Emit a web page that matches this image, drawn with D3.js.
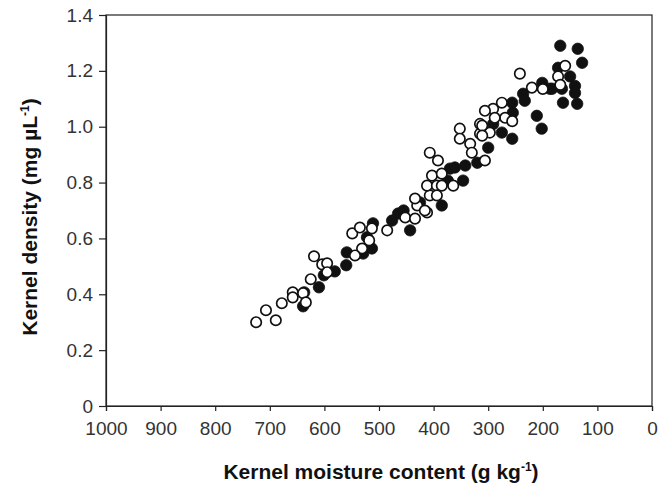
<!DOCTYPE html>
<html>
<head>
<meta charset="utf-8">
<script src="https://cdn.jsdelivr.net/npm/d3@7"></script>
<style>
  body { margin: 0; background: #fff; }
  svg text { font-family: "Liberation Sans", Arial, sans-serif; }
</style>
</head>
<body>
<svg id="chart" width="667" height="490"></svg>
<script>
// Kernel moisture content (g/kg) and kernel density (mg/µL)
const openMoisture = [725,707,689,678,658,658,639,634,625,619,604,595,595,549,535,513,518,531,544,
  485,452,434,412,430,407,412,434,416,407,392,352,352,333,330,315,315,403,385,394,364,394,385,306,
  242,220,200,172,168,275,291,269,306,288,256,297,311,311,159];
const openDensity = [0.30,0.343,0.307,0.368,0.407,0.389,0.404,0.371,0.454,0.536,0.507,0.511,0.479,0.618,0.639,0.636,0.593,0.564,0.539,
  0.629,0.675,0.671,0.693,0.718,0.754,0.789,0.743,0.70,0.907,0.879,0.993,0.957,0.939,0.907,0.975,1.01,0.825,0.832,0.789,0.789,0.754,0.789,0.879,
  1.19,1.14,1.135,1.18,1.15,1.086,1.064,1.032,1.057,1.032,1.02,0.979,1.004,0.968,1.218];

const filledMoisture = [637,639,610,601,581,560,559,511,522,529,513,465,476,443,425,455,370,361,342,320,346,374,385,
  300,256,291,236,233,201,187,150,141,141,163,137,211,202,256,255,275,168,136,128,172,165,183];
const filledDensity = [0.407,0.357,0.425,0.468,0.482,0.504,0.55,0.654,0.604,0.546,0.564,0.689,0.664,0.629,0.729,0.70,0.85,0.854,0.861,0.871,0.807,0.807,0.718,
  0.925,0.957,1.01,1.118,1.093,1.157,1.136,1.18,1.146,1.121,1.086,1.082,1.039,0.993,1.086,1.05,0.979,1.29,1.279,1.229,1.211,1.136,1.136];

const xTicks = [1000,900,800,700,600,500,400,300,200,100,0];
const yTicks = [0,0.2,0.4,0.6,0.8,1.0,1.2,1.4];

const svg = d3.select("#chart");
const plotLeft = 106, plotRight = 652, plotTop = 15, plotBottom = 406;

const x = d3.scaleLinear().domain([1000, 0]).range([plotLeft, plotRight]);
const y = d3.scaleLinear().domain([0, 1.4]).range([plotBottom, plotTop]);

// plot frame
svg.append("rect")
  .attr("x", plotLeft).attr("y", plotTop)
  .attr("width", plotRight - plotLeft).attr("height", plotBottom - plotTop)
  .attr("fill", "none").attr("stroke", "#222").attr("stroke-width", 1.2);

// x axis
const xAxis = svg.append("g")
  .attr("transform", `translate(0,${plotBottom})`)
  .call(d3.axisBottom(x).tickValues(xTicks).tickSize(5).tickPadding(11).tickFormat(d3.format("d")));
// y axis
const yAxis = svg.append("g")
  .attr("transform", `translate(${plotLeft},0)`)
  .call(d3.axisLeft(y).tickValues(yTicks).tickSize(7).tickPadding(6)
    .tickFormat(d => d === 0 ? "0" : d3.format(".1f")(d)));

[xAxis, yAxis].forEach(g => {
  g.select(".domain").attr("stroke", "#222").attr("stroke-width", 1.2);
  g.selectAll(".tick line").attr("stroke", "#222").attr("stroke-width", 1.2);
  g.selectAll(".tick text").attr("fill", "#333").style("font-size", "19px")
    .style("font-family", "'Liberation Sans', Arial, sans-serif");
});

// points
const filled = filledMoisture.map((m, i) => ({ m, d: filledDensity[i] }));
const open = openMoisture.map((m, i) => ({ m, d: openDensity[i] }));

svg.append("g").selectAll("circle").data(filled).join("circle")
  .attr("cx", p => x(p.m)).attr("cy", p => y(p.d)).attr("r", 5.7)
  .attr("fill", "#111").attr("stroke", "#111").attr("stroke-width", 0.8);

svg.append("g").selectAll("circle").data(open).join("circle")
  .attr("cx", p => x(p.m)).attr("cy", p => y(p.d)).attr("r", 5.2)
  .attr("fill", "#fff").attr("stroke", "#111").attr("stroke-width", 1.7);

// axis titles
const xt = svg.append("text")
  .attr("x", 381).attr("y", 479).attr("text-anchor", "middle")
  .style("font-size", "21px").style("font-weight", "bold").attr("fill", "#111");
xt.append("tspan").text("Kernel moisture content (g kg");
xt.append("tspan").attr("dy", -8).style("font-size", "12px").text("-1");
xt.append("tspan").attr("dy", 8).text(")");

const yt = svg.append("text")
  .attr("transform", "translate(37,217) rotate(-90)").attr("text-anchor", "middle")
  .style("font-size", "21px").style("font-weight", "bold").attr("fill", "#111");
yt.append("tspan").text("Kernel density (mg µL");
yt.append("tspan").attr("dy", -8).style("font-size", "12px").text("-1");
yt.append("tspan").attr("dy", 8).text(")");
</script>
</body>
</html>
